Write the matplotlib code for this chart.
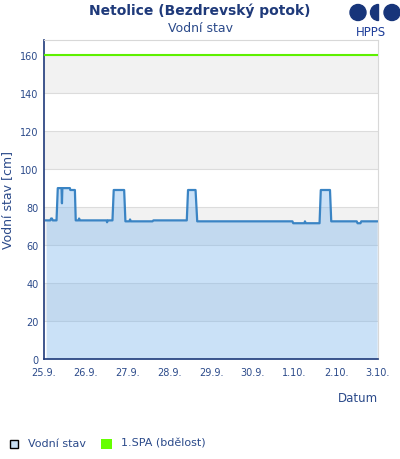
import matplotlib
matplotlib.use("Agg")
import matplotlib.pyplot as plt
from matplotlib.patches import Circle, Wedge, Rectangle
import numpy as np

# Data (days since 25.9. 00:00, water level cm)
days = [0.05, 0.15, 0.17, 0.19, 0.21, 0.30, 0.33, 0.42, 0.43, 0.44, 0.62, 0.63,
        0.74, 0.76, 0.83, 0.84, 0.86, 1.50, 1.51, 1.53, 1.64, 1.67, 1.92, 1.95,
        2.05, 2.06, 2.08, 2.60, 2.62, 3.42, 3.45, 3.63, 3.67, 5.95, 5.97, 6.24,
        6.25, 6.27, 6.60, 6.63, 6.85, 6.88, 7.49, 7.51, 7.58, 7.60, 7.98]
level = [73, 73, 74, 74, 73, 73, 90, 90, 82, 90, 90, 89,
         89, 73, 73, 74, 73, 73, 72, 73, 73, 89, 89, 72.5,
         72.5, 73.5, 72.5, 72.5, 73, 73, 89, 89, 72.5, 72.5, 71.5, 71.5,
         72.5, 71.5, 71.5, 89, 89, 72.5, 72.5, 71.5, 71.5, 72.5, 72.5]
spa1 = 160
xtick_labels = ["25.9.", "26.9.", "27.9.", "28.9.", "29.9.", "30.9.", "1.10.", "2.10.", "3.10."]
yticks = [0, 20, 40, 60, 80, 100, 120, 140, 160]

navy = "#1f3a7a"
text_c = "#2b4a8a"

fig = plt.figure(figsize=(4.0, 4.6), dpi=100)
ax = fig.add_axes([44/400, 1-360/460, (378-44)/400, (360-41)/460])

# alternating bands
for lo in [20, 60, 100, 140]:
    ax.axhspan(lo, lo+20, color="#f2f2f2", zorder=0, lw=0)
for y in yticks[1:]:
    ax.axhline(y, color="#dcdcdc", lw=0.8, zorder=0.5)

ax.fill_between(days, level, 0, color="#7cb5ec", alpha=0.4, lw=0, zorder=1)
ax.plot(days, level, color="#3a84c4", lw=1.6, zorder=2)
ax.plot([0.02, 7.98], [spa1, spa1], color="#5ef000", lw=1.5, zorder=3)

ax.set_xlim(0, 8)
ax.set_ylim(0, 168)
ax.set_xticks(range(9))
ax.set_xticklabels(xtick_labels)
ax.set_yticks(yticks)
ax.tick_params(axis="both", length=0, labelsize=7, colors=text_c, pad=4)
ax.tick_params(axis="x", pad=6)
for s in ["left", "bottom"]:
    ax.spines[s].set_color(navy)
    ax.spines[s].set_linewidth(1.2)
for s in ["top", "right"]:
    ax.spines[s].set_color("#d8d8d8")
    ax.spines[s].set_linewidth(0.8)
ax.set_ylabel("Vodní stav [cm]", color=text_c, fontsize=9, labelpad=4)

fig.text(0.5, 1-11/460, "Netolice (Bezdrevský potok)", ha="center", va="center",
         fontsize=10, fontweight="bold", color=navy)
fig.text(0.5, 1-28/460, "Vodní stav", ha="center", va="center", fontsize=9, color=text_c)
fig.text(378/400, 1-399/460, "Datum", ha="right", va="center", fontsize=8.5, color=text_c)

# HPPS logo
lax = fig.add_axes([340/400, 1-48/460, 60/400, 48/460])
lax.set_xlim(0, 60); lax.set_ylim(48, 0); lax.axis("off")
lax.set_aspect("equal")
lax.add_patch(Circle((18, 13.5), 8, color="#17357a"))
lax.add_patch(Wedge((38.5, 13.5), 8, 90, 270, color="#17357a"))
lax.add_patch(Circle((52, 13.5), 8, color="#17357a"))
lax.text(31, 32, "HPPS", ha="center", va="center", fontsize=8.5, color="#1f3f9a")

# legend
fig.patches.append(Rectangle((10/400, 1-449/460), 8/400, 8/460, transform=fig.transFigure,
                             facecolor="#c8dff3", edgecolor="black", lw=1.0))
fig.text(28/400, 1-444/460, "Vodní stav", ha="left", va="center", fontsize=8, color=text_c)
fig.patches.append(Rectangle((101/400, 1-450/460), 11/400, 10/460, transform=fig.transFigure,
                             facecolor="#66ff00", edgecolor="none"))
fig.text(121/400, 1-444/460, "1.SPA (bdělost)", ha="left", va="center", fontsize=8, color=text_c)

fig.savefig("out.png", dpi=100)
